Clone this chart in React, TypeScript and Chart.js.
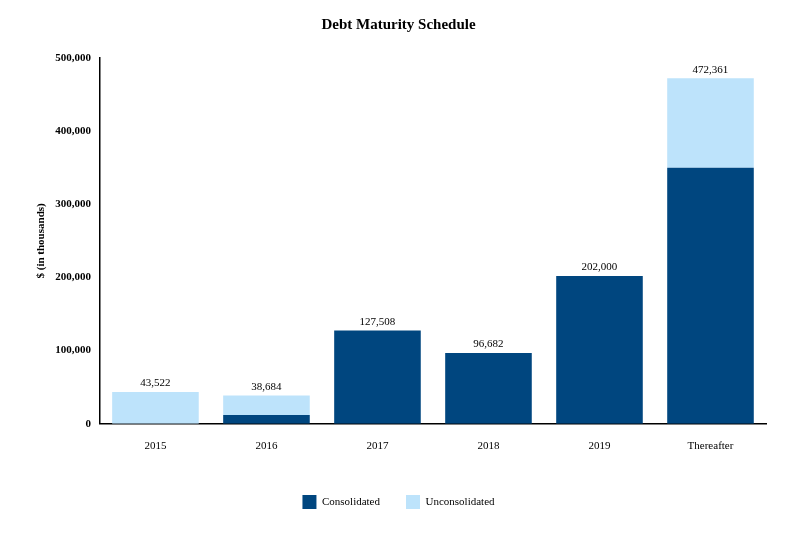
import React, { useEffect, useRef } from "react";
import { Chart, registerables } from "chart.js";
Chart.register(...registerables);

const categories = ["2015", "2016", "2017", "2018", "2019", "Thereafter"];
const consolidated = [0, 12000, 127508, 96682, 202000, 350000];
const unconsolidated = [43522, 26684, 0, 0, 0, 122361];
const totals = ["43,522", "38,684", "127,508", "96,682", "202,000", "472,361"];

const FONT = "'Liberation Serif', 'Times New Roman', serif";

const totalsPlugin = {
  id: "totals",
  afterDatasetsDraw(chart: any) {
    const ctx = chart.ctx;
    const x = chart.scales.x;
    const y = chart.scales.y;
    ctx.save();
    ctx.font = `11px ${FONT}`;
    ctx.fillStyle = "#000";
    ctx.textAlign = "center";
    ctx.textBaseline = "bottom";
    categories.forEach((c, i) => {
      const v = consolidated[i] + unconsolidated[i];
      ctx.fillText(totals[i], x.getPixelForValue(i), y.getPixelForValue(v) - 3);
    });
    ctx.restore();
  },
};

export default function App() {
  const ref = useRef<HTMLCanvasElement>(null);
  useEffect(() => {
    const chart = new Chart(ref.current!, {
      type: "bar",
      data: {
        labels: categories,
        datasets: [
          { label: "Consolidated", data: consolidated, backgroundColor: "#00467F", barPercentage: 0.78, categoryPercentage: 1 },
          { label: "Unconsolidated", data: unconsolidated, backgroundColor: "#BDE3FB", barPercentage: 0.78, categoryPercentage: 1 },
        ],
      },
      options: {
        animation: false,
        responsive: false,
        layout: { padding: { left: 31, right: 34, top: 8, bottom: 14 } },
        plugins: {
          title: { display: true, text: "Debt Maturity Schedule", color: "#000", font: { family: FONT, size: 15, weight: "bold" }, padding: { top: 8, bottom: 24 } },
          legend: {
            position: "bottom",
            labels: { color: "#000", font: { family: FONT, size: 11 }, boxWidth: 14, boxHeight: 14, padding: 26 },
          },
          tooltip: { enabled: false },
        },
        scales: {
          x: {
            stacked: true,
            grid: { display: false, drawTicks: false },
            border: { color: "#000", width: 1.5 },
            ticks: { color: "#000", font: { family: FONT, size: 11 }, padding: 16 },
          },
          y: {
            stacked: true,
            min: 0,
            max: 500000,
            grid: { display: false, drawTicks: true, tickLength: 6, tickColor: "#000" },
            border: { color: "#000", width: 1.5 },
            ticks: { stepSize: 100000, color: "#000", font: { family: FONT, size: 11, weight: "bold" }, callback: (v: any) => Number(v).toLocaleString("en-US") },
            title: { display: true, text: "$ (in thousands)", color: "#000", font: { family: FONT, size: 11, weight: "bold" } },
          },
        },
      },
      plugins: [totalsPlugin],
    });
    return () => chart.destroy();
  }, []);
  return (
    <div style={{ position: "fixed", left: 0, top: 0, width: 800, height: 533, background: "#fff" }}>
      <canvas ref={ref} width={800} height={533} />
    </div>
  );
}
